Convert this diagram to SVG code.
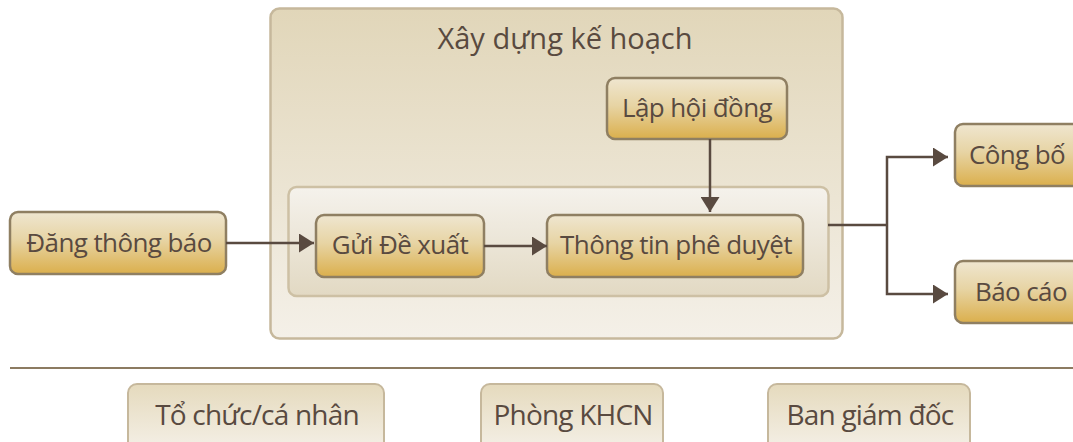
<svg xmlns="http://www.w3.org/2000/svg" width="1073" height="442" viewBox="0 0 1073 442">
<defs>
<linearGradient id="gNode" x1="0" y1="0" x2="0" y2="1">
<stop offset="0" stop-color="#efe6d0"/>
<stop offset="0.45" stop-color="#e7d4a4"/>
<stop offset="1" stop-color="#dbaf4c"/>
</linearGradient>
<linearGradient id="gOuter" x1="0" y1="0" x2="0" y2="1">
<stop offset="0" stop-color="#e1d6b9"/>
<stop offset="1" stop-color="#f4f0e8"/>
</linearGradient>
<linearGradient id="gInner" x1="0" y1="0" x2="0" y2="1">
<stop offset="0" stop-color="#f5f2ec"/>
<stop offset="1" stop-color="#e2d9c3"/>
</linearGradient>
<linearGradient id="gLane" x1="0" y1="0" x2="0" y2="1">
<stop offset="0" stop-color="#e5dabd"/>
<stop offset="1" stop-color="#f5f1e9"/>
</linearGradient>
<marker id="arr" viewBox="0 0 10 10" refX="10" refY="5" markerWidth="15" markerHeight="19" markerUnits="userSpaceOnUse" orient="auto" preserveAspectRatio="none">
<path d="M0,0 L10,5 L0,10 z" fill="#594a40"/>
</marker>
<style>
.node{fill:url(#gNode);stroke:#8f7f62;stroke-width:2.5}
.lane{fill:url(#gLane);stroke:#c6b89c;stroke-width:2}
.t{font-family:"Open Sans","Noto Sans",sans-serif;fill:#594a40;text-anchor:middle}
.n{font-size:26px;letter-spacing:-0.6px}
.b{font-size:28px;letter-spacing:-0.8px}
.c{fill:none;stroke:#594a40;stroke-width:2.5}
</style>
</defs>
<g id="planGroup">
<rect x="270.5" y="8.5" width="572" height="330" rx="9" fill="url(#gOuter)" stroke="#c6b89c" stroke-width="2.5"/>
<text class="t" x="565" y="49" font-size="29">Xây dựng kế hoạch</text>
</g>
<g id="innerGroup">
<rect x="288.5" y="187" width="540" height="109" rx="8" fill="url(#gInner)" stroke="#cdc0a4" stroke-width="2.5"/>
</g>
<g id="dang">
<rect class="node" x="10" y="212" width="216" height="62" rx="8"/>
<text class="t n" x="119" y="252">Đăng thông báo</text>
</g>
<g id="lap">
<rect class="node" x="607" y="78" width="180" height="61" rx="8"/>
<text class="t n" x="697" y="117">Lập hội đồng</text>
</g>
<g id="gui">
<rect class="node" x="316" y="215" width="168" height="62" rx="8"/>
<text class="t n" x="400" y="254">Gửi Đề xuất</text>
</g>
<g id="thongtin">
<rect class="node" x="547" y="215" width="256" height="62" rx="8"/>
<text class="t n" x="676" y="254">Thông tin phê duyệt</text>
</g>
<g id="congbo">
<rect class="node" x="955" y="124" width="130" height="62" rx="8"/>
<text class="t n" x="1017" y="164">Công bố</text>
</g>
<g id="baocao">
<rect class="node" x="955" y="261" width="130" height="62" rx="8"/>
<text class="t n" x="1021" y="301">Báo cáo</text>
</g>
<g id="connectors">
<path class="c" d="M226,243 H314" marker-end="url(#arr)"/>
<path class="c" d="M484,246 H547" marker-end="url(#arr)"/>
<path class="c" d="M710,139 V212" marker-end="url(#arr)"/>
<path class="c" d="M828,225 H887"/>
<path class="c" d="M887,225 V157 H948" marker-end="url(#arr)"/>
<path class="c" d="M887,225 V294 H948" marker-end="url(#arr)"/>
</g>
<g id="divider">
<line x1="10" y1="368" x2="1073" y2="368" stroke="#8c7b61" stroke-width="2"/>
</g>
<g id="lane1">
<rect class="lane" x="128" y="384" width="256" height="70" rx="9"/>
<text class="t b" x="257" y="425">Tổ chức/cá nhân</text>
</g>
<g id="lane2">
<rect class="lane" x="481" y="384" width="182" height="70" rx="9"/>
<text class="t b" x="573" y="425">Phòng KHCN</text>
</g>
<g id="lane3">
<rect class="lane" x="768" y="384" width="202" height="70" rx="9"/>
<text class="t b" x="870" y="425">Ban giám đốc</text>
</g>
</svg>
